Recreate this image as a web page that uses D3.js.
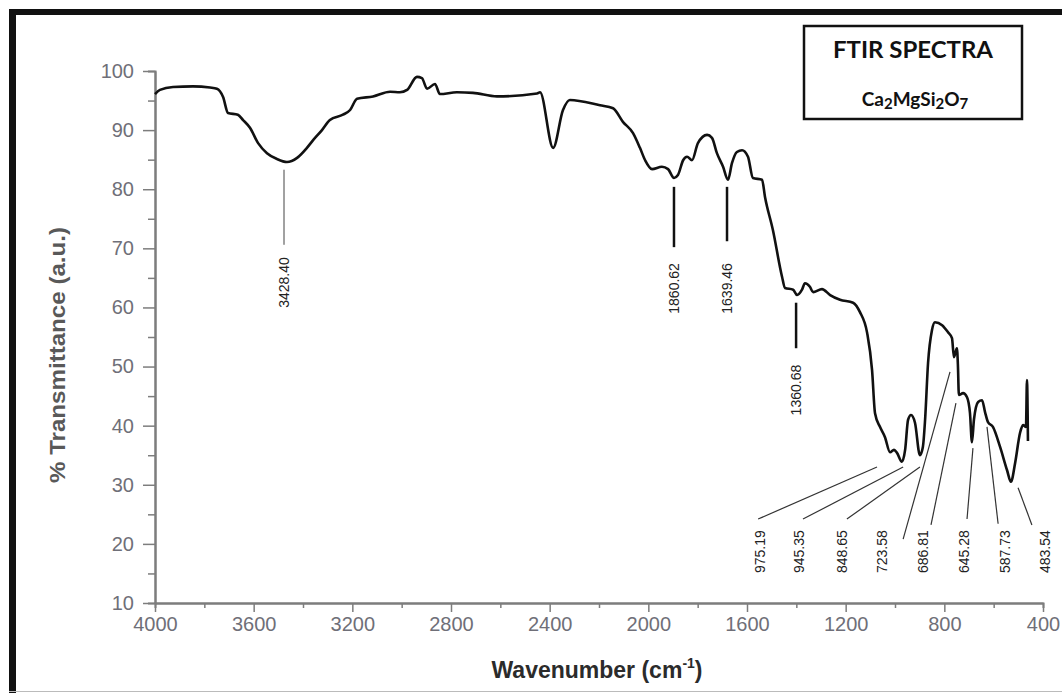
<!DOCTYPE html>
<html>
<head>
<meta charset="utf-8">
<script src="https://cdn.jsdelivr.net/npm/d3@7"></script>
<style>
  body { margin: 0; background: #fff; }
  svg { display: block; }
</style>
</head>
<body>
<script>
'use strict';

// FTIR spectrum of Ca2MgSi2O7
let wavenumber = [4000, 3980, 3927, 3846, 3777, 3749, 3724, 3704, 3664, 3643,
    3615, 3582, 3546, 3505, 3465, 3424, 3384, 3359, 3323, 3291,
    3238, 3209, 3181, 3116, 3047, 3007, 2978, 2938, 2918, 2897,
    2865, 2845, 2776, 2711, 2614, 2451, 2439, 2386, 2346, 2318,
    2196, 2143, 2103, 2062, 2034, 2013, 1985, 1945, 1920, 1896,
    1880, 1859, 1843, 1823, 1799, 1762, 1742, 1722, 1697, 1677,
    1661, 1641, 1620, 1596, 1576, 1539, 1527, 1495, 1458, 1446,
    1413, 1397, 1377, 1365, 1345, 1332, 1296, 1263, 1223, 1170,
    1142, 1113, 1093, 1081, 1061, 1041, 1020, 1004, 992, 972,
    959, 947, 935, 919, 899, 887, 878, 866, 850, 838,
    809, 785, 769, 761, 749, 745, 741, 724, 708, 696,
    688, 680, 663, 647, 635, 623, 603, 574, 546, 530,
    513, 493, 481, 469, 465, 461];
let transmittance = [96.1, 96.8, 97.3, 97.4, 97.2, 97.0, 95.6, 92.9, 92.6, 91.7,
    90.4, 87.8, 86.1, 85.1, 84.6, 85.3, 87.0, 88.3, 90.0, 91.7,
    92.6, 93.4, 95.3, 95.7, 96.5, 96.4, 96.8, 99.0, 98.8, 97.0,
    97.8, 96.1, 96.4, 96.3, 95.7, 96.2, 96.4, 87.0, 93.4, 95.1,
    94.2, 93.7, 91.4, 89.5, 87.0, 84.9, 83.4, 83.8, 83.4, 81.9,
    82.4, 84.9, 85.5, 84.9, 87.8, 89.2, 88.7, 86.1, 83.8, 81.6,
    84.4, 86.3, 86.6, 85.5, 81.9, 81.6, 78.7, 73.1, 65.2, 63.3,
    63.0, 62.1, 63.0, 64.1, 63.5, 62.6, 63.1, 62.1, 61.3, 60.8,
    59.2, 55.7, 49.4, 42.1, 39.8, 38.1, 35.5, 35.9, 35.4, 33.9,
    35.9, 41.0, 41.8, 40.5, 35.0, 36.4, 41.0, 50.6, 56.2, 57.5,
    57.0, 55.8, 54.8, 51.6, 53.1, 50.3, 45.2, 45.5, 44.8, 42.1,
    37.2, 41.0, 44.0, 44.3, 42.3, 40.6, 39.8, 36.4, 32.5, 30.5,
    33.7, 38.8, 40.1, 39.8, 47.7, 37.4];

let xTicks = [4000, 3600, 3200, 2800, 2400, 2000, 1600, 1200, 800, 400];
let xMinor = d3.range(3800, 400, -400);
let yTicks = [10, 20, 30, 40, 50, 60, 70, 80, 90, 100];
let yMinor = d3.range(15, 100, 10);

// peaks marked with short vertical bars
let upperLabels = ['3428.40', '1860.62', '1639.46', '1360.68'];
let upperAt = [3477, 1896, 1681, 1401];
let upperTop = [83.3, 80.4, 80.4, 60.8];
let upperBottom = [70.6, 70.2, 71.2, 53.1];
let upperTextTop = [68.5, 67.5, 67.5, 50.3];

// peaks marked with slanted leader lines
let lowerLabels = ['975.19', '945.35', '848.65', '723.58', '686.81', '645.28', '587.73', '483.54'];
let lowerTextAt = [1547, 1389, 1215, 1053, 887, 720, 554, 392];
let lowerTextTop = 22.3;
let leaderW1 = [1555, 1373, 1195, 967, 854, 708, 582, 445];
let leaderT1 = [24.2, 24.2, 24.2, 20.8, 23.2, 24.2, 23.4, 23.2];
let leaderW2 = [1073, 967, 899, 777, 753, 684, 627, 501];
let leaderT2 = [33.0, 33.0, 33.0, 49.1, 43.8, 36.2, 39.8, 29.5];

let w = 1062, h = 693;

let svg = d3.select('body')
    .append('svg')
    .attr('width', w)
    .attr('height', h);

// outer frame
svg.append('line').attr('x1', 9).attr('x2', w).attr('y1', 12).attr('y2', 12)
    .attr('stroke', '#111').attr('stroke-width', 6);
svg.append('line').attr('x1', 12.5).attr('x2', 12.5).attr('y1', 9).attr('y2', h)
    .attr('stroke', '#111').attr('stroke-width', 7);
svg.append('line').attr('x1', 9).attr('x2', w).attr('y1', 691.5).attr('y2', 691.5)
    .attr('stroke', '#bbb').attr('stroke-width', 1);

let x = d3.scaleLinear().domain([4000, 400]).range([155, 1043]);
let y = d3.scaleLinear().domain([10, 100]).range([603, 71]);

let axisColor = '#7d7d7d';
let tickColor = '#6f6f78';

function styleAxis(g) {
    g.select('.domain').attr('stroke', axisColor).attr('stroke-width', 2);
    g.selectAll('.tick line').attr('stroke', axisColor).attr('stroke-width', 1.5);
    g.selectAll('.tick text')
        .attr('fill', tickColor)
        .attr('font-family', 'Liberation Sans, Arial, sans-serif')
        .attr('font-size', '20px');
}

// minor ticks first, majors on top
svg.append('g')
    .attr('transform', 'translate(0,603)')
    .call(d3.axisBottom(x).tickValues(xMinor).tickSize(5).tickFormat(''))
    .call(styleAxis);
svg.append('g')
    .attr('transform', 'translate(155,0)')
    .call(d3.axisLeft(y).tickValues(yMinor).tickSize(7).tickFormat(''))
    .call(styleAxis);

svg.append('g')
    .attr('transform', 'translate(0,603)')
    .call(d3.axisBottom(x).tickValues(xTicks).tickSize(9).tickPadding(5)
        .tickSizeOuter(0).tickFormat(d3.format('d')))
    .call(styleAxis);
svg.append('g')
    .attr('transform', 'translate(155,0)')
    .call(d3.axisLeft(y).tickValues(yTicks).tickSize(12).tickPadding(9)
        .tickSizeOuter(0).tickFormat(d3.format('d')))
    .call(styleAxis);

// axis titles
let xTitle = svg.append('text')
    .attr('x', 597)
    .attr('y', 678)
    .attr('text-anchor', 'middle')
    .attr('font-family', 'Liberation Sans, Arial, sans-serif')
    .attr('font-size', '23px')
    .attr('font-weight', 'bold')
    .attr('fill', '#2b2b2b');
xTitle.append('tspan').text('Wavenumber (cm');
xTitle.append('tspan').text('-1').attr('font-size', '14px').attr('dy', -10);
xTitle.append('tspan').text(')').attr('dy', 10);

svg.append('text')
    .attr('transform', 'translate(65,355) rotate(-90)')
    .attr('text-anchor', 'middle')
    .attr('font-family', 'Liberation Sans, Arial, sans-serif')
    .attr('font-size', '22px')
    .attr('font-weight', 'bold')
    .attr('fill', '#595959')
    .attr('textLength', 256)
    .attr('lengthAdjust', 'spacingAndGlyphs')
    .text('% Transmittance (a.u.)');

// spectrum
let pts = wavenumber.map((d, i) => [d, transmittance[i]]);
let line = d3.line()
    .x(d => x(d[0]))
    .y(d => y(d[1]))
    .curve(d3.curveMonotoneX);

svg.append('path')
    .datum(pts)
    .attr('d', line)
    .attr('fill', 'none')
    .attr('stroke', '#111')
    .attr('stroke-width', 2.6)
    .attr('stroke-linejoin', 'round');

// peak annotations
let labelFont = 'Liberation Sans, Arial, sans-serif';

svg.selectAll('line.upper')
    .data(upperLabels)
    .enter()
    .append('line')
    .attr('class', 'upper')
    .attr('x1', (d, i) => x(upperAt[i]))
    .attr('x2', (d, i) => x(upperAt[i]))
    .attr('y1', (d, i) => y(upperTop[i]))
    .attr('y2', (d, i) => y(upperBottom[i]))
    .attr('stroke', (d, i) => i === 0 ? '#444' : '#111')
    .attr('stroke-width', (d, i) => i === 0 ? 1 : 2.5);

svg.selectAll('text.upper')
    .data(upperLabels)
    .enter()
    .append('text')
    .attr('class', 'upper')
    .attr('transform', (d, i) => 'translate(' + (x(upperAt[i]) + 5) + ',' + y(upperTextTop[i]) + ') rotate(-90)')
    .attr('text-anchor', 'end')
    .attr('font-family', labelFont)
    .attr('font-size', '14px')
    .attr('fill', '#222')
    .text(d => d);

svg.selectAll('line.lower')
    .data(lowerLabels)
    .enter()
    .append('line')
    .attr('class', 'lower')
    .attr('x1', (d, i) => x(leaderW1[i]))
    .attr('y1', (d, i) => y(leaderT1[i]))
    .attr('x2', (d, i) => x(leaderW2[i]))
    .attr('y2', (d, i) => y(leaderT2[i]))
    .attr('stroke', '#333')
    .attr('stroke-width', 1.2);

svg.selectAll('text.lower')
    .data(lowerLabels)
    .enter()
    .append('text')
    .attr('class', 'lower')
    .attr('transform', (d, i) => 'translate(' + (x(lowerTextAt[i]) + 5) + ',' + y(lowerTextTop) + ') rotate(-90)')
    .attr('text-anchor', 'end')
    .attr('font-family', labelFont)
    .attr('font-size', '14px')
    .attr('fill', '#222')
    .text(d => d);

// title box
svg.append('rect')
    .attr('x', 804)
    .attr('y', 26)
    .attr('width', 218)
    .attr('height', 93)
    .attr('fill', '#fff')
    .attr('stroke', '#111')
    .attr('stroke-width', 2.5);

svg.append('text')
    .attr('x', 913)
    .attr('y', 58)
    .attr('text-anchor', 'middle')
    .attr('font-family', 'Lato, Open Sans, sans-serif')
    .attr('font-size', '22px')
    .attr('font-weight', 'bold')
    .attr('fill', '#111')
    .attr('textLength', 160)
    .attr('lengthAdjust', 'spacingAndGlyphs')
    .text('FTIR SPECTRA');

let formula = svg.append('text')
    .attr('x', 915)
    .attr('y', 106)
    .attr('text-anchor', 'middle')
    .attr('font-family', 'Lato, Open Sans, sans-serif')
    .attr('font-size', '19px')
    .attr('font-weight', 'bold')
    .attr('fill', '#111');
[['Ca', false], ['2', true], ['MgSi', false], ['2', true], ['O', false], ['7', true]]
    .forEach(p => {
        formula.append('tspan')
            .text(p[0])
            .attr('font-size', p[1] ? '15px' : '19px')
            .attr('baseline-shift', p[1] ? '-3' : null);
    });
</script>
</body>
</html>
